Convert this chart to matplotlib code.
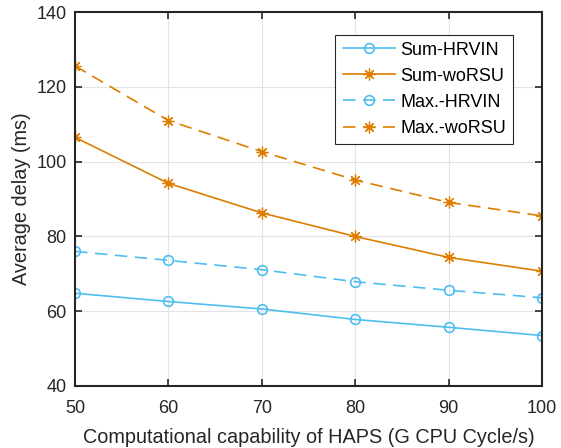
import numpy as np
import matplotlib.pyplot as plt

plt.rcParams['font.family'] = ['Liberation Sans', 'DejaVu Sans']

capability = [50, 60, 70, 80, 90, 100]
sum_hrvin = [64.8, 62.6, 60.6, 57.8, 55.7, 53.5]
sum_worsu = [106.5, 94.2, 86.3, 80.0, 74.4, 70.7]
max_hrvin = [76.0, 73.6, 71.1, 67.9, 65.6, 63.6]
max_worsu = [125.6, 111.0, 102.7, 95.1, 89.1, 85.5]

blue = '#4DBEEE'
orange = '#DE7D00'
asterisk = (8, 2, 0)  # 8-spoke asterisk marker

fig = plt.figure(figsize=(5.61, 4.48), dpi=100)
ax = fig.add_axes([0.1337, 0.1384, 0.8323, 0.8346])

ax.plot(capability, sum_hrvin, '-', marker='o', color=blue, lw=1.2, ms=7, mfc='none', mew=1.2, label='Sum-HRVIN')
ax.plot(capability, sum_worsu, '-', marker=asterisk, color=orange, lw=1.2, ms=8.5, mew=0.9, label='Sum-woRSU')
ax.plot(capability, max_hrvin, '--', marker='o', color=blue, lw=1.2, ms=7, mfc='none', mew=1.2,
        dashes=(7.5, 4.5), label='Max.-HRVIN')
ax.plot(capability, max_worsu, '--', marker=asterisk, color=orange, lw=1.2, ms=8.5, mew=0.9,
        dashes=(7.5, 4.5), label='Max.-woRSU')

ax.set_xlim(50, 100)
ax.set_ylim(40, 140)
ax.set_xticks(np.arange(50, 101, 10))
ax.set_yticks(np.arange(40, 141, 20))
ax.grid(True, color='#E3E3E3', lw=0.8)
ax.set_axisbelow(True)
ax.tick_params(direction='in', length=5, width=1.2, top=True, right=True,
               labelsize=13, colors='#262626')
ax.tick_params(axis='x', pad=10)
ax.tick_params(axis='y', pad=6)
for s in ax.spines.values():
    s.set_linewidth(1.5)
    s.set_color('#262626')

ax.set_xlabel('Computational capability of HAPS (G CPU Cycle/s)', fontsize=14.3, color='#262626', labelpad=8)
ax.set_ylabel('Average delay (ms)', fontsize=14.3, color='#262626', labelpad=4)

leg = ax.legend(loc='upper right', bbox_to_anchor=(0.939, 0.94), fontsize=13,
                fancybox=False, edgecolor='#262626', framealpha=1,
                handlelength=2.9, borderpad=0.4, labelspacing=0.5, handletextpad=0.3,
                borderaxespad=0)
leg.get_frame().set_linewidth(0.8)

fig.savefig('out.png', dpi=100)
